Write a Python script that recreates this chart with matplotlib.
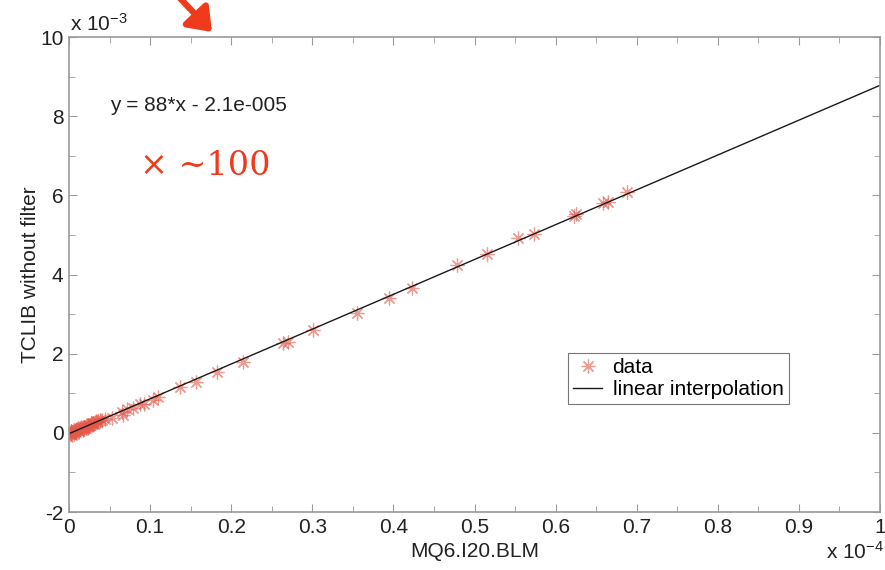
import numpy as np
import matplotlib
matplotlib.use("Agg")
import matplotlib.pyplot as plt
from matplotlib.patches import FancyArrowPatch

# Measurements (x in units of 1e-4, y in units of 1e-3)
blm_x = [0.688, 0.664, 0.659, 0.625, 0.623, 0.573, 0.554, 0.515, 0.478,
         0.423, 0.394, 0.355, 0.301, 0.270, 0.264, 0.215, 0.182, 0.156,
         0.137, 0.110, 0.104, 0.092, 0.088, 0.079, 0.072, 0.067, 0.065,
         0.053, 0.045, 0.041, 0.038, 0.036, 0.034, 0.032, 0.030, 0.028,
         0.026, 0.024, 0.022, 0.020, 0.018, 0.016, 0.014, 0.012, 0.010,
         0.009, 0.008, 0.007, 0.006, 0.005, 0.004, 0.003, 0.002, 0.001,
         0.012, 0.018, 0.025, 0.031, 0.006, 0.003, 0.015, 0.021, 0.027,
         0.009, 0.004, 0.033, 0.011, 0.017, 0.023, 0.002]
tclib_y = [6.09, 5.82, 5.80, 5.52, 5.48, 5.02, 4.91, 4.52, 4.24,
           3.65, 3.40, 3.04, 2.60, 2.30, 2.26, 1.80, 1.54, 1.29,
           1.16, 0.91, 0.83, 0.73, 0.72, 0.62, 0.60, 0.45, 0.53,
           0.37, 0.36, 0.33, 0.32, 0.30, 0.28, 0.26, 0.25, 0.22,
           0.21, 0.19, 0.18, 0.16, 0.15, 0.13, 0.11, 0.09, 0.08,
           0.06, 0.05, 0.04, 0.03, 0.02, 0.01, 0.00, -0.02, -0.03,
           0.05, 0.10, 0.17, 0.23, -0.04, 0.04, 0.16, 0.12, 0.24,
           0.02, -0.05, 0.30, 0.12, 0.08, 0.14, 0.05]

# Fitted line: y = 88*x - 2.1e-005 (in SI units)
fit_slope = 88.0
fit_offset = -2.1e-5
fit_x = np.array([0.0, 1.0])  # 1e-4 units

x_ticks = [0, 0.1, 0.2, 0.3, 0.4, 0.5, 0.6, 0.7, 0.8, 0.9, 1]
x_tick_labels = ["0", "0.1", "0.2", "0.3", "0.4", "0.5", "0.6", "0.7", "0.8", "0.9", "1"]
y_ticks = [-2, 0, 2, 4, 6, 8, 10]
y_tick_labels = ["-2", "0", "2", "4", "6", "8", "10"]

axis_grey = "#9a9a9a"
text_col = "#222222"
plt.rcParams["font.family"] = ["Liberation Sans", "DejaVu Sans"]
plt.rcParams["mathtext.fontset"] = "custom"
plt.rcParams["mathtext.rm"] = "Liberation Sans"
plt.rcParams["mathtext.default"] = "rm"

fig = plt.figure(figsize=(8.85, 5.70), dpi=100)
ax = fig.add_axes([69 / 885, 1 - 512 / 570, (880 - 69) / 885, (512 - 37) / 570])

ax.plot(blm_x, tclib_y, linestyle="none", marker=(8, 2, 0), markersize=10,
        markeredgewidth=0.9, color="#e5584a", alpha=0.6, label="data")
fit_y = (fit_slope * fit_x * 1e-4 + fit_offset) * 1e3
ax.plot(fit_x, fit_y, color="#1a1a1a", linewidth=1.0, label="linear interpolation")

ax.set_xlim(0, 1)
ax.set_ylim(-2, 10)
ax.set_xticks(x_ticks)
ax.set_xticklabels(x_tick_labels)
ax.set_xticks(np.arange(0.05, 1.0, 0.1), minor=True)
ax.set_yticks(y_ticks)
ax.set_yticklabels(y_tick_labels)
ax.set_yticks(np.arange(-1, 10, 2), minor=True)
ax.tick_params(which="both", direction="in", top=True, right=True,
               color=axis_grey, labelsize=15, labelcolor=text_col, pad=4)
ax.tick_params(which="major", length=6)
ax.tick_params(which="minor", length=4)
for s in ax.spines.values():
    s.set_color(axis_grey)
    s.set_linewidth(1.2)

ax.set_xlabel("MQ6.I20.BLM", fontsize=15, color=text_col, labelpad=4)
ax.set_ylabel("TCLIB without filter", fontsize=15, color=text_col, labelpad=0)

# exponent markers
fig.text(70 / 885, 1 - 24 / 570, r"x 10$^{-3}$", fontsize=15, color=text_col,
         ha="left", va="center")
fig.text(826 / 885, 1 - 552 / 570, r"x 10$^{-4}$", fontsize=15, color=text_col,
         ha="left", va="center")

ax.text(0.05, 8.28, "y = 88*x - 2.1e-005", fontsize=15, color=text_col,
        ha="left", va="center")
ax.text(0.087, 6.75, "× ~100", fontsize=24, color="#f03a1c",
        family="DejaVu Serif", ha="left", va="center")

leg = ax.legend(loc="upper left", bbox_to_anchor=(0.615, 0.335), fontsize=15,
                frameon=True, fancybox=False, borderpad=0.25, handlelength=1.4,
                handletextpad=0.5, labelspacing=0.15, borderaxespad=0)
leg.get_frame().set_edgecolor("#555555")
leg.get_frame().set_linewidth(0.8)

# red pointer arrow at the top
fig.add_artist(FancyArrowPatch(
    (176 / 885, 1 - (-6) / 570), (212 / 885, 1 - 32 / 570),
    transform=fig.transFigure, arrowstyle="-|>,head_length=6,head_width=4.5",
    mutation_scale=2.2, color="#f03a1c", linewidth=4.5, shrinkA=0, shrinkB=0))

fig.savefig("out.png", dpi=100)
